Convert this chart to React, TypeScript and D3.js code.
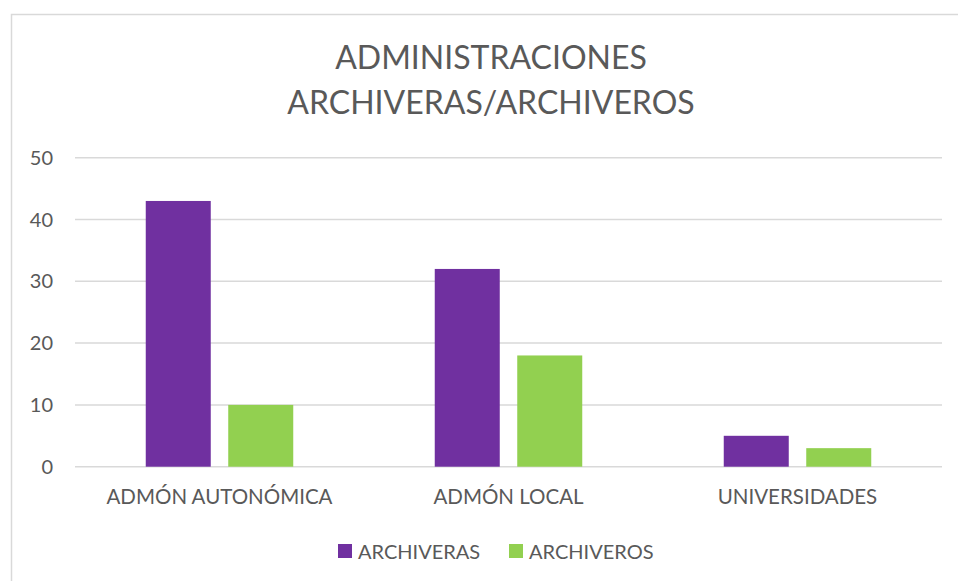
import React, { useEffect, useRef } from 'react';
import * as d3 from 'd3';

const categories = ['ADMÓN AUTONÓMICA', 'ADMÓN LOCAL', 'UNIVERSIDADES'];
const seriesNames = ['ARCHIVERAS', 'ARCHIVEROS'];
const archiveras = [43, 32, 5];
const archiveros = [10, 18, 3];
const yTicks = [0, 10, 20, 30, 40, 50];
const titleLines = ['ADMINISTRACIONES', 'ARCHIVERAS/ARCHIVEROS'];
const colors = ['#7030A0', '#92D050'];

const W = 958;
const H = 581;
const FONT = 'Lato, "Open Sans", sans-serif';
const TEXT = '#595959';

export default function App() {
  const ref = useRef<SVGSVGElement>(null);

  useEffect(() => {
    const svg = d3.select(ref.current);
    svg.selectAll('*').remove();

    // chart frame
    svg.append('rect')
      .attr('x', 11.5).attr('y', 14.5)
      .attr('width', W).attr('height', H)
      .attr('fill', '#fff').attr('stroke', '#d9d9d9').attr('stroke-width', 1.5);

    const left = 75, right = 942, top = 157.7, bottom = 466.7;
    const groupW = 147.5;

    const x0 = d3.scaleBand().domain(categories).range([left, right]);
    const x1 = d3.scaleBand().domain(seriesNames).range([0, groupW]).paddingInner(0.212);
    const y = d3.scaleLinear().domain([0, 50]).range([bottom, top]);

    // title
    svg.append('g').selectAll('text').data(titleLines).enter().append('text')
      .attr('x', 491).attr('y', (d, i) => 69 + i * 45)
      .attr('text-anchor', 'middle')
      .style('font-family', FONT).style('font-size', '32px').attr('fill', TEXT)
      .text(d => d);

    // grid
    svg.append('g').selectAll('line').data(yTicks).enter().append('line')
      .attr('x1', left).attr('x2', right)
      .attr('y1', d => y(d)).attr('y2', d => y(d))
      .attr('stroke', '#d9d9d9').attr('stroke-width', 1.5);

    svg.append('g').selectAll('text').data(yTicks).enter().append('text')
      .attr('x', 53).attr('y', d => y(d) + 7)
      .attr('text-anchor', 'end')
      .style('font-family', FONT).style('font-size', '20px').attr('fill', TEXT)
      .text(d => d);

    const groups = svg.append('g').selectAll('g').data(categories).enter().append('g')
      .attr('transform', c => `translate(${x0(c)! + (x0.bandwidth() - groupW) / 2},0)`);

    groups.selectAll('rect')
      .data((c, ci) => [archiveras[ci], archiveros[ci]].map((v, si) => ({ v, s: seriesNames[si], si })))
      .enter().append('rect')
      .attr('x', d => x1(d.s)!)
      .attr('width', x1.bandwidth())
      .attr('y', d => y(d.v))
      .attr('height', d => bottom - y(d.v))
      .attr('fill', d => colors[d.si]);

    // category labels
    svg.append('g').selectAll('text').data(categories).enter().append('text')
      .attr('x', c => x0(c)! + x0.bandwidth() / 2).attr('y', 504)
      .attr('text-anchor', 'middle')
      .style('font-family', FONT).style('font-size', '20.5px').attr('fill', TEXT)
      .text(d => d);

    // legend
    const legendX = [338, 509];
    const lg = svg.append('g').selectAll('g').data(seriesNames).enter().append('g')
      .attr('transform', (d, i) => `translate(${legendX[i]},544)`);
    lg.append('rect').attr('width', 14).attr('height', 14).attr('fill', (d, i) => colors[i]);
    lg.append('text').attr('x', 20).attr('y', 14.5)
      .style('font-family', FONT).style('font-size', '20px').attr('fill', TEXT)
      .text(d => d);
  }, []);

  return (
    <svg ref={ref} width={W} height={H}
      style={{ position: 'absolute', left: 0, top: 0, background: '#fff' }} />
  );
}
